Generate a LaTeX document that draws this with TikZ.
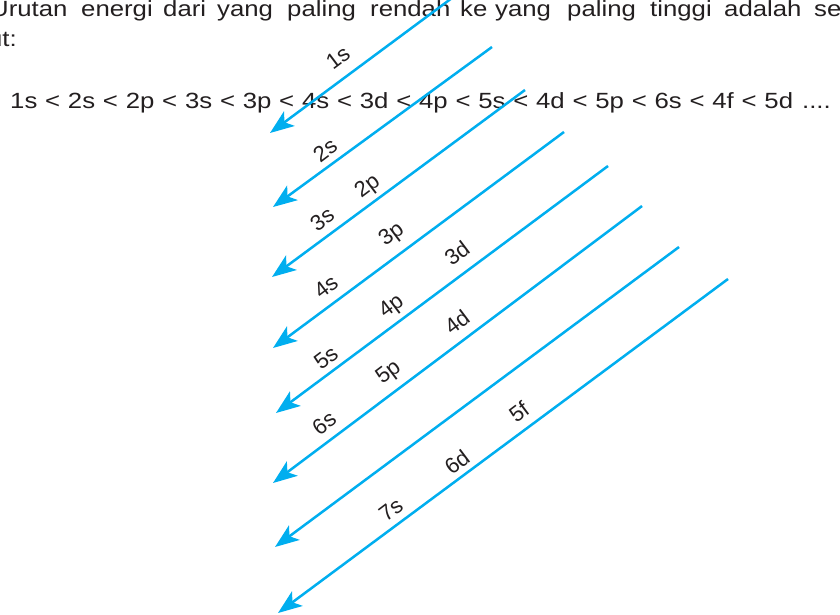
\documentclass[tikz,border=0pt]{standalone}
\usepackage{fontspec}
\setmainfont{Liberation Sans}
\newfontfamily\widef[FakeStretch=1.17]{Liberation Sans}
\usetikzlibrary{arrows.meta}
\definecolor{orbcyan}{RGB}{0,174,239}
\definecolor{inkgray}{RGB}{35,31,32}
\begin{document}
\begin{tikzpicture}[x=1pt,y=-1pt,
  fillarrow/.style={orbcyan, line width=2.5pt, -{Stealth[length=24pt,width=18pt,inset=6pt]}},
  word/.style={inner sep=0pt, anchor=base west, text=inkgray, font=\widef\fontsize{22}{26}\selectfont},
  orb/.style={inner sep=0pt, rotate=37, text=inkgray, font=\fontsize{22}{26}\selectfont}]
\useasboundingbox (0,0) rectangle (840,615);
\clip (0,0) rectangle (840,615);
\fill[white] (0,0) rectangle (840,615);

% top sentence (cropped)
\node[word] (w1) at (-10,17) {Urutan};
\node[word] (w2) at (81,17) {energi};
\node[word] (w3) at (163,17) {dari};
\node[word] (w4) at (217,17) {yang};
\node[word] (w5) at (287,17) {paling};
\node[word] (w6) at (370,17) {rendah};
\node[word] (w7) at (460,17) {ke};
\node[word] (w8) at (495,17) {yang};
\node[word] (w9) at (567,17) {paling};
\node[word] (w10) at (650,17) {tinggi};
\node[word] (w11) at (724,17) {adalah};
\node[word] (w12) at (814,17) {sebagai};
\node[word, anchor=base east] (w13) at (17,47) {berikut:};

% energy order
\node[word] (order) at (10,109) {\makebox[783pt][s]{1s < 2s < 2p < 3s < 3p < 4s < 3d < 4p < 5s < 4d < 5p < 6s < 4f < 5d}\hspace{9pt}....};

% arrows
\coordinate (s1) at (452,-2);  \coordinate (e1) at (270,133);
\coordinate (s2) at (492,47);  \coordinate (e2) at (273,207);
\coordinate (s3) at (525,90);  \coordinate (e3) at (272,277);
\coordinate (s4) at (564,132); \coordinate (e4) at (273,348);
\coordinate (s5) at (608,166); \coordinate (e5) at (276,413);
\coordinate (s6) at (642,206); \coordinate (e6) at (273,483);
\coordinate (s7) at (679,247); \coordinate (e7) at (275,547);
\coordinate (s8) at (728,279); \coordinate (e8) at (278,613);
\foreach \i in {1,...,8} {\draw[fillarrow] (s\i) -- (e\i);}

% orbital labels
\node[orb] (l1s) at (338,58) {1s};
\node[orb] (l2s) at (325,150) {2s};
\node[orb] (l3s) at (322,219) {3s};
\node[orb] (l2p) at (368,187) {2p};
\node[orb] (l3p) at (392,235) {3p};
\node[orb] (l3d) at (457,253) {3d};
\node[orb] (l4s) at (326,287) {4s};
\node[orb] (l4p) at (392,307) {4p};
\node[orb] (l5s) at (326,358) {5s};
\node[orb] (l4d) at (457,322) {4d};
\node[orb] (l5p) at (389,373) {5p};
\node[orb] (l6s) at (324,423) {6s};
\node[orb] (l5f) at (519,412) {5f};
\node[orb] (l6d) at (457,462) {6d};
\node[orb] (l7s) at (391,510) {7s};
\end{tikzpicture}
\end{document}
